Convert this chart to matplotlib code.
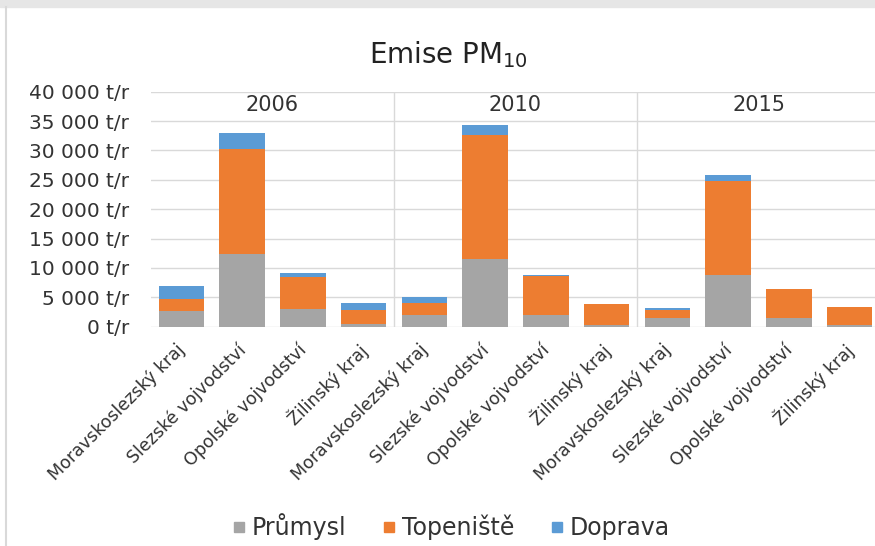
import matplotlib
matplotlib.use("Agg")
import matplotlib.pyplot as plt
from matplotlib.lines import Line2D
from matplotlib.transforms import ScaledTranslation
import numpy as np

plt.rcParams['font.family'] = ['DejaVu Sans']

years = ["2006", "2010", "2015"]
regions = ["Moravskoslezský kraj", "Slezské vojvodství", "Opolské vojvodství", "Žilinský kraj"]
prumysl = [2700, 12300, 3000, 400,
           2000, 11600, 2000, 300,
           1400, 8800, 1400, 300]
topeniste = [2000, 18000, 5400, 2400,
             2000, 21000, 6700, 3500,
             1500, 16000, 5000, 3000]
doprava = [2200, 2600, 700, 1200,
           1000, 1700, 100, 100,
           300, 1100, 50, 100]
series_names = ["Průmysl", "Topeniště", "Doprava"]
colors = ["#a5a5a5", "#ed7d31", "#5b9bd5"]
yticks = list(range(0, 40001, 5000))

txt = "#333333"
fig = plt.figure(figsize=(8.75, 5.46), dpi=100)
fig.patch.set_facecolor("white")
fig.add_artist(plt.Rectangle((0, 1 - 7/546), 1, 7/546, transform=fig.transFigure,
                             color="#e6e6e6", zorder=0))
fig.add_artist(Line2D([6/875, 6/875], [0, 1 - 7/546], transform=fig.transFigure,
                      color="#d9d9d9", lw=1.5))

ax = fig.add_axes([151/875, 219.3/546, 729/875, 235/546])
labels = [r for _ in years for r in regions]
x = np.arange(len(labels))
p = np.array(prumysl)
t = np.array(topeniste)
d = np.array(doprava)
w = 0.75
ax.bar(x, p, w, color=colors[0], zorder=3)
ax.bar(x, t, w, bottom=p, color=colors[1], zorder=3)
ax.bar(x, d, w, bottom=p + t, color=colors[2], zorder=3)

ax.set_xlim(-0.5, len(labels) - 0.5)
ax.set_ylim(0, 40000)
ax.set_yticks(yticks)
ax.set_yticklabels([f"{v:,}".replace(",", " ") + " t/r" for v in yticks], fontsize=14.5, color=txt)
ax.yaxis.grid(True, color="#d9d9d9", lw=1, zorder=0)
for s in ax.spines.values():
    s.set_visible(False)
ax.tick_params(axis="y", length=0, pad=16)
ax.tick_params(axis="x", length=0, pad=15)
ax.set_xticks(x)
ax.set_xticklabels(labels, rotation=45, ha="right", va="center", rotation_mode="anchor",
                   fontsize=12.5, color=txt)
for lbl in ax.get_xticklabels():
    lbl.set_transform(lbl.get_transform() + ScaledTranslation(1/100, 0, fig.dpi_scale_trans))
for sep in [3.5, 7.5]:
    ax.axvline(sep, color="#d9d9d9", lw=1, zorder=1)
for i, yr in enumerate(years):
    ax.text(i * 4 + 1.5, 37700, yr, ha="center", va="center", fontsize=15, color=txt)

fig.text(0.512, 0.9, r"Emise PM$_{10}$", ha="center", va="center", fontsize=20, color="#222222")

handles = [Line2D([], [], marker="s", ls="", color=c, markersize=7.5) for c in colors]
fig.legend(handles, series_names, loc="center", bbox_to_anchor=(0.514, 0.035), ncol=3,
           frameon=False, fontsize=17, handlelength=0.8, handletextpad=0.15,
           columnspacing=1.4, labelcolor=txt)

fig.savefig("out.png", dpi=100)
